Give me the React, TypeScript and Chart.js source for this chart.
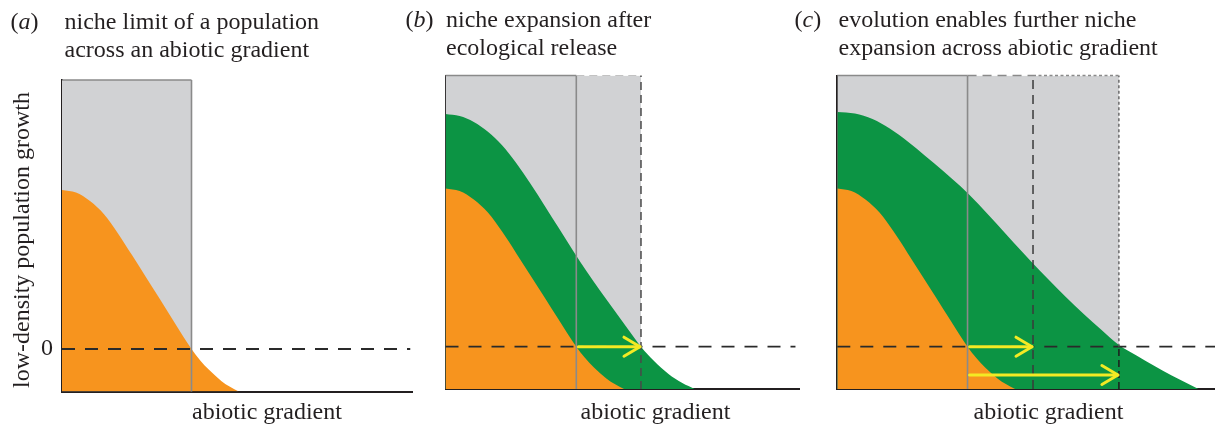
import React, { useEffect, useRef } from "react";
import { Chart, registerables } from "chart.js";

Chart.register(...registerables);

// ---------------- data ----------------
// original population (orange) – low-density growth along the abiotic gradient
const orangeX = [0, 0.4, 0.8, 1.2, 1.6, 2.0, 2.4, 2.8, 3.2, 3.45, 3.7, 3.95, 4.2, 4.55, 4.8, 5.05];
const orangeY = [3.74, 3.68, 3.48, 3.17, 2.72, 2.21, 1.69, 1.17, 0.64, 0.31, 0, -0.27, -0.49, -0.75, -0.89, -1];

// after ecological release (green, panel b)
const greenBX = [0, 0.4, 0.8, 1.2, 1.6, 2.0, 2.4, 2.8, 3.2, 3.6, 4.0, 4.4, 4.8, 5.2, 5.53, 5.9, 6.3, 6.7, 7.05];
const greenBY = [5.5, 5.45, 5.31, 5.08, 4.76, 4.34, 3.86, 3.34, 2.81, 2.28, 1.77, 1.29, 0.83, 0.37, 0, -0.34, -0.64, -0.86, -1];

// after evolution (green, panel c)
const greenCX = [0, 0.5, 1.0, 1.5, 2.0, 2.5, 3.0, 3.5, 4.0, 4.5, 5.0, 5.5, 6.0, 6.5, 7.0, 7.5, 8.0, 8.5, 9.0, 9.5, 10.26];
const greenCY = [5.55, 5.51, 5.38, 5.15, 4.85, 4.51, 4.16, 3.79, 3.38, 2.93, 2.47, 2.02, 1.59, 1.17, 0.77, 0.4, 0.04, -0.21, -0.45, -0.68, -1.0];

// niche limits (where growth crosses zero)
const nicheLimit = 3.7;
const releasedLimit = [5.53, 5.56];
const evolvedLimit = 8.0;

// axis ranges per panel
const xMaxes = [10, 10, 10.73];
const yMin = -1;
const yMaxes = [6.33, 6.41, 6.41];

// arrows (panel b and c)
const arrowStartB = [3.7];
const arrowEndB = [5.53];
const arrowLevelB = [0];
const arrowStartC = [3.7, 3.7];
const arrowEndC = [5.56, 8.0];
const arrowLevelC = [0, -0.67];

// text
const panelLetters = ["a", "b", "c"];
const panelTitles = [
  ["niche limit of a population", "across an abiotic gradient"],
  ["niche expansion after", "ecological release"],
  ["evolution enables further niche", "expansion across abiotic gradient"],
];
const xAxisLabel = "abiotic gradient";
const yAxisLabel = "low-density population growth";
const zeroLabel = "0";

// ---------------- styling ----------------
const GRAY = "#d1d2d4";
const ORANGE = "#f7941e";
const GREEN = "#0c9444";
const AXIS = "#231f20";
const EDGE = "#8a8a8a";
const YELLOW = "#f3ea24";
const FONT = "'Liberation Serif', 'Times New Roman', Times, serif";

// chart areas in page pixels [left, top, right, bottom]
const AREAS = [
  [62, 80, 412, 391.5],
  [445.5, 75.5, 799, 389],
  [837.3, 75.5, 1215, 389],
];
const W = 1215;
const H = 428;

const pts = (xs: number[], ys: number[]) => xs.map((x, i) => ({ x, y: ys[i] }));

const area = (xs: number[], ys: number[], color: string, order: number) => ({
  data: pts(xs, ys),
  backgroundColor: color,
  borderWidth: 0,
  borderColor: "rgba(0,0,0,0)",
  fill: "start",
  pointRadius: 0,
  cubicInterpolationMode: "monotone",
  order,
});

const seg = (
  x0: number, y0: number, x1: number, y1: number,
  color: string, width: number, dash: number[], order: number
) => ({
  data: [{ x: x0, y: y0 }, { x: x1, y: y1 }],
  borderColor: color,
  borderWidth: width,
  borderDash: dash,
  backgroundColor: "rgba(0,0,0,0)",
  fill: false,
  pointRadius: 0,
  clip: false,
  order,
});

const makeArrowPlugin = (starts: number[], ends: number[], levels: number[]) => ({
  id: "nicheArrows",
  afterDatasetsDraw(chart: any) {
    const xs = chart.scales.x;
    const ys = chart.scales.y;
    const ctx = chart.ctx;
    ctx.save();
    ctx.strokeStyle = YELLOW;
    ctx.lineWidth = 3;
    ctx.lineCap = "round";
    ctx.lineJoin = "round";
    starts.forEach((s, i) => {
      const x0 = xs.getPixelForValue(s) + 2;
      const x1 = xs.getPixelForValue(ends[i]) - 1;
      const y = ys.getPixelForValue(levels[i]);
      ctx.beginPath();
      ctx.moveTo(x0, y);
      ctx.lineTo(x1, y);
      ctx.stroke();
      ctx.beginPath();
      ctx.moveTo(x1 - 16, y - 9.5);
      ctx.lineTo(x1, y);
      ctx.lineTo(x1 - 16, y + 9.5);
      ctx.stroke();
    });
    ctx.restore();
  },
});

function panelDatasets(p: number) {
  const yMax = yMaxes[p];
  const xMax = xMaxes[p];
  const ds: any[] = [];
  if (p === 0) {
    ds.push(area([0, nicheLimit], [yMax, yMax], GRAY, 100));
    ds.push(area(orangeX, orangeY, ORANGE, 80));
    ds.push(seg(0, 0, xMax - 0.05, 0, "#2a2a2a", 1.8, [13, 10], 50));
    ds.push(seg(0, yMax, nicheLimit, yMax, EDGE, 1.5, [], 40));
    ds.push(seg(nicheLimit, yMin, nicheLimit, yMax, EDGE, 1.6, [], 40));
  } else if (p === 1) {
    ds.push(area([0, releasedLimit[0]], [yMax, yMax], GRAY, 100));
    ds.push(area(greenBX, greenBY, GREEN, 90));
    ds.push(area(orangeX, orangeY, ORANGE, 80));
    ds.push(seg(0, 0, xMax - 0.1, 0, "#2a2a2a", 1.8, [13, 10], 50));
    ds.push(seg(0, yMax, nicheLimit, yMax, EDGE, 1.5, [], 40));
    ds.push(seg(nicheLimit, yMax, releasedLimit[0], yMax, "#c2c2c2", 1.0, [8, 5], 40));
    ds.push(seg(nicheLimit, yMin, nicheLimit, yMax, EDGE, 1.6, [], 40));
    ds.push(seg(releasedLimit[0], yMin, releasedLimit[0], yMax, "#4a4a4a", 1.5, [8, 5], 40));
  } else {
    ds.push(area([0, evolvedLimit], [yMax, yMax], GRAY, 100));
    ds.push(area(greenCX, greenCY, GREEN, 90));
    ds.push(area(orangeX, orangeY, ORANGE, 80));
    ds.push(seg(0, 0, xMax, 0, "#2a2a2a", 1.8, [13, 10], 50));
    ds.push(seg(0, yMax, nicheLimit, yMax, EDGE, 1.5, [], 40));
    ds.push(seg(nicheLimit, yMax, releasedLimit[1], yMax, "#8a8a8a", 1.3, [9, 6], 40));
    ds.push(seg(releasedLimit[1], yMax, evolvedLimit, yMax, "#8a8a8a", 1.3, [3, 2.5], 40));
    ds.push(seg(nicheLimit, yMin, nicheLimit, yMax, EDGE, 1.6, [], 40));
    ds.push(seg(releasedLimit[1], yMin, releasedLimit[1], yMax, "#3a3a3a", 1.5, [9, 6], 40));
    ds.push(seg(evolvedLimit, 0, evolvedLimit, yMax, "#555555", 1.3, [3, 2.5], 40));
    ds.push(seg(evolvedLimit, yMin, evolvedLimit, 0, "#1e1e1e", 1.5, [7, 4], 40));
  }
  return ds;
}

function makeChart(canvas: HTMLCanvasElement, p: number) {
  const [l, t, r, b] = AREAS[p];
  const plugins: any[] = [];
  if (p === 1) plugins.push(makeArrowPlugin(arrowStartB, arrowEndB, arrowLevelB));
  if (p === 2) plugins.push(makeArrowPlugin(arrowStartC, arrowEndC, arrowLevelC));
  return new Chart(canvas, {
    type: "line",
    data: { datasets: panelDatasets(p) },
    plugins,
    options: {
      responsive: false,
      animation: false,
      events: [],
      layout: { padding: { left: l, top: t, right: W - r, bottom: H - b } },
      plugins: { legend: { display: false }, tooltip: { enabled: false }, title: { display: false } },
      scales: {
        x: {
          type: "linear",
          min: 0,
          max: xMaxes[p],
          grid: { display: false, drawTicks: false },
          ticks: { display: false },
          border: { display: true, color: AXIS, width: 2 },
        },
        y: {
          type: "linear",
          min: yMin,
          max: yMaxes[p],
          grid: { display: false, drawTicks: false },
          ticks: { display: false },
          border: { display: true, color: AXIS, width: 2 },
        },
      },
    } as any,
  });
}

const textBase: React.CSSProperties = {
  position: "absolute",
  fontFamily: FONT,
  fontSize: 24,
  lineHeight: "28px",
  color: AXIS,
  whiteSpace: "nowrap",
  margin: 0,
};

const letterLeft = [10.5, 405.5, 794.5];
const titleLeft = [64.5, 446, 838.5];
const titleTop = [7, 4.5, 4.5];
const xLabelLeft = [192, 580.5, 973.5];

export default function App() {
  const r0 = useRef<HTMLCanvasElement>(null);
  const r1 = useRef<HTMLCanvasElement>(null);
  const r2 = useRef<HTMLCanvasElement>(null);

  useEffect(() => {
    const charts = [r0, r1, r2].map((r, i) => makeChart(r.current as HTMLCanvasElement, i));
    return () => charts.forEach((c) => c.destroy());
  }, []);

  const canvasStyle: React.CSSProperties = { position: "absolute", left: 0, top: 0, width: W, height: H };

  return (
    <div style={{ position: "absolute", left: 0, top: 0, width: W, height: H, background: "#fff", overflow: "hidden" }}>
      <canvas ref={r0} width={W} height={H} style={canvasStyle} />
      <canvas ref={r1} width={W} height={H} style={canvasStyle} />
      <canvas ref={r2} width={W} height={H} style={canvasStyle} />
      {panelLetters.map((l, i) => (
        <div key={"l" + i} style={{ ...textBase, left: letterLeft[i], top: titleTop[i] }}>
          (<i>{l}</i>)
        </div>
      ))}
      {panelTitles.map((lines, i) => (
        <div key={"t" + i} style={{ ...textBase, left: titleLeft[i], top: titleTop[i] }}>
          {lines[0]}
          <br />
          {lines[1]}
        </div>
      ))}
      {xLabelLeft.map((x, i) => (
        <div key={"x" + i} style={{ ...textBase, left: x, top: 397 }}>
          {xAxisLabel}
        </div>
      ))}
      <div style={{ ...textBase, left: 41, top: 333 }}>{zeroLabel}</div>
      <div
        style={{
          ...textBase,
          left: 7.2,
          top: 388,
          transformOrigin: "0 0",
          transform: "rotate(-90deg)",
        }}
      >
        {yAxisLabel}
      </div>
    </div>
  );
}
